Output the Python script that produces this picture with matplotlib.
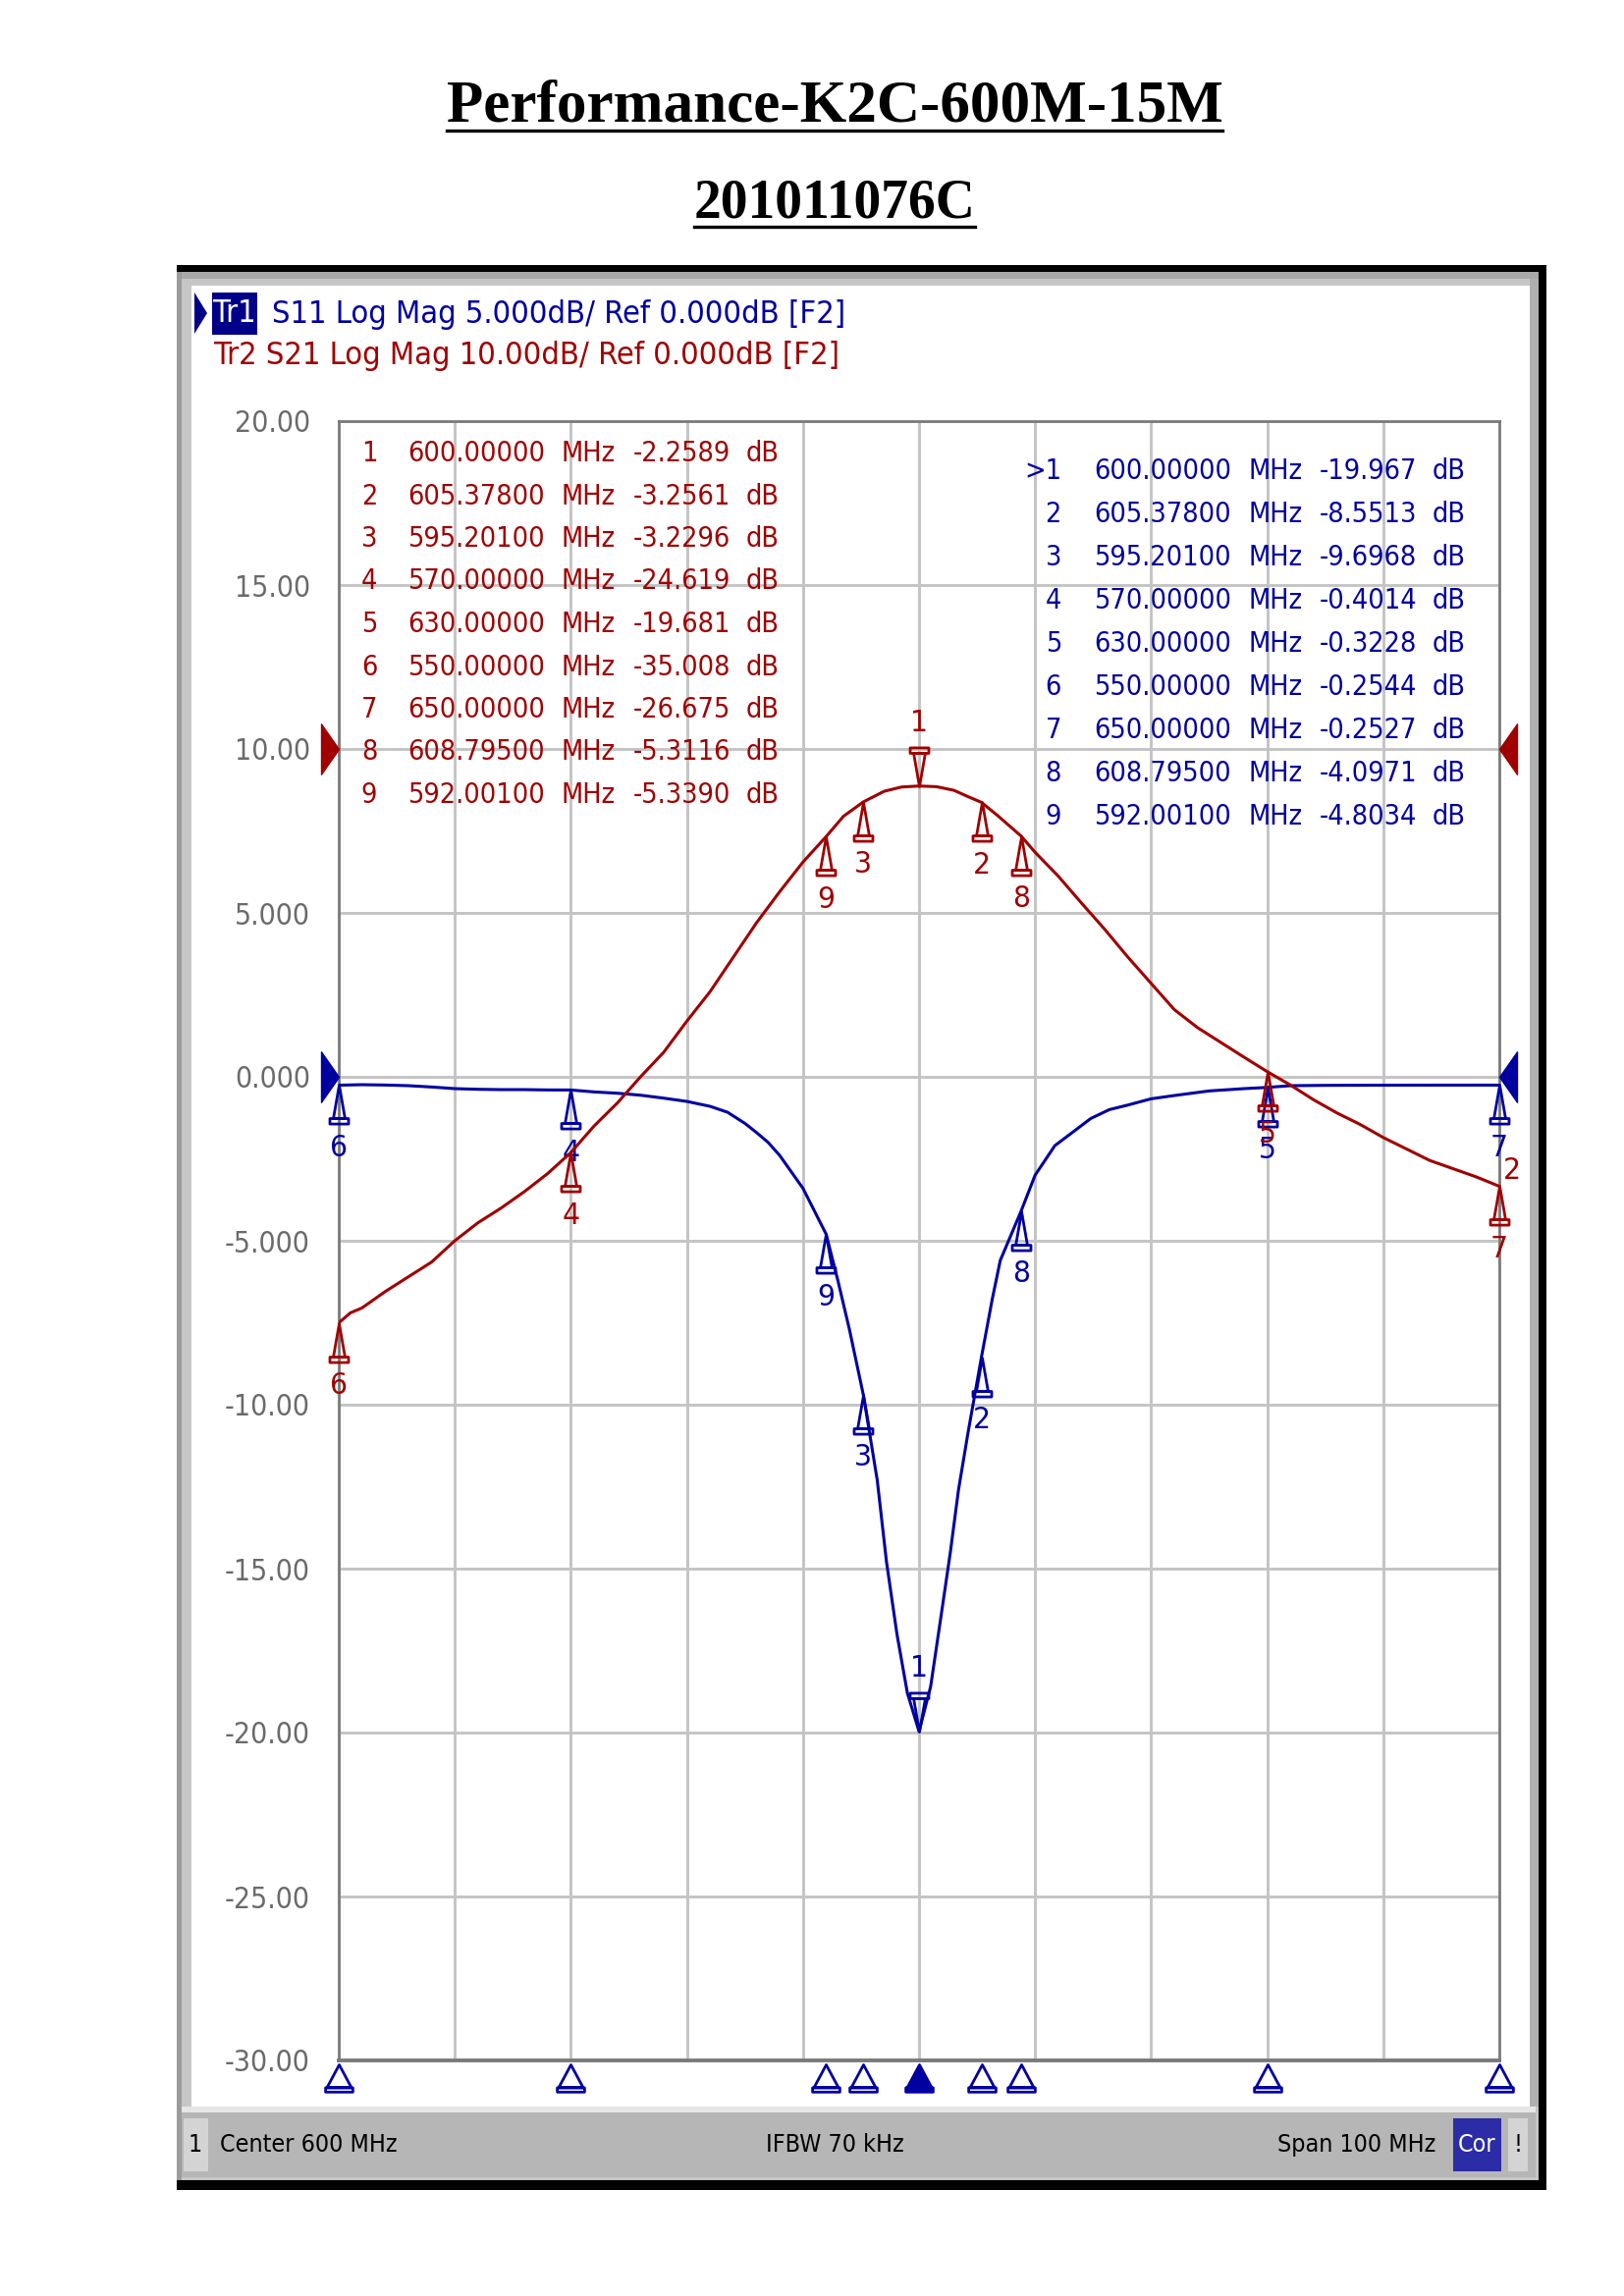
import matplotlib
matplotlib.use("Agg")
import matplotlib.pyplot as plt
import matplotlib.transforms as mtransforms
from matplotlib.path import Path
from matplotlib.patches import Rectangle, Polygon
from matplotlib.lines import Line2D
from matplotlib import font_manager

# ---------------- data ----------------
title_text = "Performance-K2C-600M-15M"
subtitle_text = "201011076C"

tr1_tag = "Tr1"
tr1_text = "S11 Log Mag 5.000dB/ Ref 0.000dB [F2]"
tr2_text = "Tr2 S21 Log Mag 10.00dB/ Ref 0.000dB [F2]"
status_left = "Center 600 MHz"
status_mid = "IFBW 70 kHz"
status_right = "Span 100 MHz"
status_cor = "Cor"

center_mhz = 600
span_mhz = 100
s11_per_div = 5.0
s11_ref_div = 6          # reference line position (divisions from bottom)
s21_per_div = 10.0
s21_ref_div = 8
n_div = 10

y_tick_labels = ["20.00", "15.00", "10.00", "5.000", "0.000", "-5.000",
                 "-10.00", "-15.00", "-20.00", "-25.00", "-30.00"]

s11_freq = [550, 552, 554, 556, 558, 560, 562, 564, 566, 568,
            570, 572, 574, 576, 578, 580, 582, 583.5, 585, 586,
            587, 588, 589, 590, 591, 592.001, 593, 594, 595.201, 596.4,
            597.2, 598.1, 599, 600, 601, 602, 602.7, 603.4, 604.2, 605.378,
            606.3, 607, 608.795, 610, 611.7, 613.2, 614.8, 616.4, 618, 620,
            622, 625, 628, 630, 632, 635, 640, 645, 650]
s11_db = [-0.2544, -0.24, -0.25, -0.27, -0.31, -0.36, -0.38, -0.39, -0.39, -0.40,
          -0.4014, -0.46, -0.50, -0.56, -0.65, -0.75, -0.90, -1.08, -1.42, -1.70,
          -2.0, -2.4, -2.9, -3.4, -4.1, -4.8034, -6.2, -7.7, -9.6968, -12.3,
          -14.8, -17.0, -18.8, -19.967, -18.6, -16.2, -14.5, -12.6, -10.9, -8.5513,
          -6.8, -5.6, -4.0971, -3.0, -2.1, -1.7, -1.27, -1.0, -0.86, -0.67,
          -0.57, -0.43, -0.36, -0.3228, -0.27, -0.26, -0.255, -0.253, -0.2527]

s21_freq = [550, 551, 552, 554, 556, 558, 560, 562, 564, 566,
            568, 570, 572, 574, 576, 578, 580, 582, 584, 586,
            588, 590, 592.001, 593.5, 595.201, 597, 598.5, 600, 601.5, 603,
            604.2, 605.378, 606.8, 608.795, 610, 612, 614, 616, 618, 620,
            622, 624, 626, 628, 630, 632, 634, 636, 638, 640,
            642, 644, 646, 648, 650]
s21_db = [-35.008, -34.4, -34.1, -33.1, -32.2, -31.3, -30.0, -28.9, -28.0, -27.0,
          -25.9, -24.619, -23.0, -21.6, -20.0, -18.5, -16.6, -14.8, -12.7, -10.6,
          -8.7, -6.9, -5.339, -4.1, -3.2296, -2.58, -2.32, -2.2589, -2.30, -2.52,
          -2.9, -3.2561, -4.08, -5.3116, -6.3, -7.76, -9.4, -11.0, -12.7, -14.3,
          -15.9, -17.0, -17.9, -18.8, -19.681, -20.5, -21.4, -22.2, -22.9, -23.7,
          -24.4, -25.1, -25.6, -26.1, -26.675]

marker_ids = [1, 2, 3, 4, 5, 6, 7, 8, 9]
marker_freq = [600.0, 605.378, 595.201, 570.0, 630.0, 550.0, 650.0, 608.795, 592.001]
s21_marker_db = [-2.2589, -3.2561, -3.2296, -24.619, -19.681, -35.008, -26.675, -5.3116, -5.3390]
s11_marker_db = [-19.967, -8.5513, -9.6968, -0.4014, -0.3228, -0.2544, -0.2527, -4.0971, -4.8034]
active_marker = 1

# ---------------- style ----------------
W, H = 1654, 2339
BLUE = "#0000a0"
RED = "#a00000"
NAVY = "#000088"
GRID = "#c4c4c4"
FRAME = "#7a7a7a"

names = {f.name for f in font_manager.fontManager.ttflist}
if "Liberation Sans Narrow" in names:
    VNA = dict(family="Liberation Sans Narrow")
else:
    VNA = dict(family="DejaVu Sans", stretch="condensed")
SERIF = "Liberation Serif" if "Liberation Serif" in names else "DejaVu Serif"

fig = plt.figure(figsize=(W / 100, H / 100), dpi=100, facecolor="white")
renderer = fig.canvas.get_renderer()


def fx(x):
    return x / W


def fy(y):
    return 1 - y / H


def fit_size(s, target_px):
    t = fig.text(0, 0, s, fontsize=20, **VNA)
    w = t.get_window_extent(renderer).width
    t.remove()
    return 20.0 * target_px / w


TABLE_FS = fit_size("600.00000", 139)
HEADER_FS = fit_size(tr2_text, 636)
TICK_FS = fit_size("20.00", 77)
STATUS_FS = fit_size(status_left, 180)
LABEL_FS = TABLE_FS * 1.1


def rect(x0, y0, x1, y1, color, z=-5):
    fig.add_artist(Rectangle((fx(x0), fy(y1)), (x1 - x0) / W, (y1 - y0) / H,
                             transform=fig.transFigure, facecolor=color,
                             edgecolor="none", zorder=z))


def ftext(x, y, s, **kw):
    kw.setdefault("va", "center")
    props = dict(VNA)
    props.update(kw)
    return fig.text(fx(x), fy(y), s, **props)


# ---------------- screenshot frame ----------------
rect(180, 270, 1575, 2231, "#c6c6c6", z=-6)
rect(180, 270, 1575, 277, "black")
rect(1567, 270, 1575, 2231, "black")
rect(180, 2221, 1575, 2231, "black")
rect(180, 277, 185, 2221, "#9c9c9c")
rect(185, 277, 1567, 284, "#a9a9a9")
rect(1558, 284, 1567, 2146, "#b0b0b0")
rect(195, 291, 1558, 2146, "white")
# status bar
rect(185, 2146, 1564, 2152, "#e6e6e6")
rect(185, 2152, 1564, 2218, "#b6b6b6")
rect(187, 2158, 212, 2212, "#d4d4d4", z=-4)
rect(1480, 2158, 1529, 2212, "#2c2ca6", z=-4)
rect(1536, 2158, 1556, 2212, "#d4d4d4", z=-4)
ftext(199, 2185, "1", ha="center", fontsize=STATUS_FS, color="black")
ftext(224, 2185, status_left, ha="left", fontsize=STATUS_FS, color="black")
ftext(850, 2185, status_mid, ha="center", fontsize=STATUS_FS, color="black")
ftext(1462, 2185, status_right, ha="right", fontsize=STATUS_FS, color="black")
ftext(1504, 2185, status_cor, ha="center", fontsize=STATUS_FS, color="white")
ftext(1546, 2185, "!", ha="center", fontsize=STATUS_FS, color="black")

# ---------------- header ----------------
fig.add_artist(Polygon([(fx(198), fy(298)), (fx(211), fy(319)), (fx(198), fy(340))],
                       closed=True, transform=fig.transFigure, facecolor=NAVY,
                       edgecolor="none", zorder=4))
rect(216, 298, 262, 341, NAVY, z=4)
ftext(239, 320, tr1_tag, ha="center", fontsize=HEADER_FS, color="white", zorder=5)
ftext(277, 320, tr1_text, ha="left", fontsize=HEADER_FS, color=BLUE)
ftext(218, 362, tr2_text, ha="left", fontsize=HEADER_FS, color=RED)

# ---------------- title ----------------
t1 = fig.text(fx(850), fy(124), title_text, ha="center", va="baseline",
              family=SERIF, fontweight="bold", fontsize=44)
t2 = fig.text(fx(850), fy(222), subtitle_text, ha="center", va="baseline",
              family=SERIF, fontweight="bold", fontsize=40)
for t, yline in ((t1, 133), (t2, 231)):
    bb = t.get_window_extent(renderer)
    fig.add_artist(Line2D([bb.x0 / W, bb.x1 / W], [fy(yline), fy(yline)],
                          transform=fig.transFigure, color="black", lw=2.4))

# ---------------- axes ----------------
ax = fig.add_axes([fx(345), fy(2099), (1527 - 345) / W, (2099 - 429) / H])
ax.set_zorder(1)
x0 = center_mhz - span_mhz / 2
x1 = center_mhz + span_mhz / 2
ax.set_xlim(x0, x1)
s11_lo = -s11_ref_div * s11_per_div
s11_hi = (n_div - s11_ref_div) * s11_per_div
ax.set_ylim(s11_lo, s11_hi)
ax.set_xticks([x0 + i * span_mhz / n_div for i in range(n_div + 1)])
yt = [s11_hi - i * s11_per_div for i in range(n_div + 1)]
ax.set_yticks(yt)
ax.set_yticklabels(y_tick_labels)
for lab in ax.get_yticklabels():
    lab.set_fontproperties(font_manager.FontProperties(size=TICK_FS, **VNA))
ax.tick_params(axis="x", length=0, labelbottom=False)
ax.tick_params(axis="y", length=0, pad=21, labelcolor="#6a6a6a")
ax.grid(True, color=GRID, lw=2.1)
ax.set_axisbelow(True)
for name, sp in ax.spines.items():
    sp.set_color(FRAME)
    sp.set_linewidth(2.0 if name != "bottom" else 2.8)

ax2 = ax.twinx()
ax2.set_zorder(2)
ax2.set_ylim(-s21_ref_div * s21_per_div, (n_div - s21_ref_div) * s21_per_div)
ax2.set_yticks([])
for sp in ax2.spines.values():
    sp.set_visible(False)

ax.plot(s11_freq, s11_db, color=BLUE, lw=2.2, zorder=3)
ax2.plot(s21_freq, s21_db, color=RED, lw=2.2, zorder=3)

# marker shapes
up_path = Path([(0, 0), (-0.15, -0.86), (0.15, -0.86), (0, 0),
                (-0.24, -0.86), (0.24, -0.86), (0.24, -1.0), (-0.24, -1.0), (-0.24, -0.86)],
               [Path.MOVETO, Path.LINETO, Path.LINETO, Path.CLOSEPOLY,
                Path.MOVETO, Path.LINETO, Path.LINETO, Path.LINETO, Path.CLOSEPOLY])
down_path = Path([(x, -y) for x, y in up_path.vertices], up_path.codes)
stim_path = Path([(0, 0), (-0.45, -0.84), (0.45, -0.84), (0, 0),
                  (-0.5, -0.84), (0.5, -0.84), (0.5, -1.0), (-0.5, -1.0), (-0.5, -0.84)],
                 up_path.codes)
ref_right = Path([(0, 0), (-0.7, 1), (-0.7, -1), (0, 0)],
                 [Path.MOVETO, Path.LINETO, Path.LINETO, Path.CLOSEPOLY])
ref_left = Path([(0, 0), (0.7, 1), (0.7, -1), (0, 0)], ref_right.codes)

PX = 72 / 100.0  # points per pixel


def trace_markers(axis, vals, color):
    for mid, f, v in zip(marker_ids, marker_freq, vals):
        active = (mid == active_marker)
        axis.plot([f], [v], marker=down_path if active else up_path, ms=57,
                  mfc="none", mec=color, mew=2.0, ls="none", clip_on=False, zorder=4)
        axis.annotate(str(mid), (f, v), xytext=(0, (64 if active else -64) * PX),
                      textcoords="offset points", ha="center", va="center",
                      color=color, fontsize=LABEL_FS, annotation_clip=False, zorder=5, **VNA)


trace_markers(ax, s11_marker_db, BLUE)
trace_markers(ax2, s21_marker_db, RED)

# stimulus markers under the grid
trans_b = mtransforms.blended_transform_factory(ax.transData, ax.transAxes)
for mid, f in zip(marker_ids, marker_freq):
    active = (mid == active_marker)
    ax.plot([f], [-4 / 1670], transform=trans_b, marker=stim_path, ms=40,
            mfc=BLUE if active else "white", mec=BLUE, mew=2.0, ls="none",
            clip_on=False, zorder=5)

# reference level arrows
ax.plot([x0], [0], marker=ref_right, ms=37, color=BLUE, ls="none", clip_on=False, zorder=5)
ax.plot([x1], [0], marker=ref_left, ms=37, color=BLUE, ls="none", clip_on=False, zorder=5)
ax2.plot([x0], [0], marker=ref_right, ms=37, color=RED, ls="none", clip_on=False, zorder=5)
ax2.plot([x1], [0], marker=ref_left, ms=37, color=RED, ls="none", clip_on=False, zorder=5)

# trace end label
ax2.annotate("2", (s21_freq[-1], s21_db[-1]), xytext=(13 * PX, 16 * PX),
             textcoords="offset points", ha="center", va="center", color=RED,
             fontsize=LABEL_FS, annotation_clip=False, zorder=5, **VNA)


# ---------------- marker tables ----------------
def fmt_db(v):
    return f"{v:.4f}" if abs(v) < 10 else f"{v:.3f}"


for i, (mid, f, v) in enumerate(zip(marker_ids, marker_freq, s21_marker_db)):
    y = 462 + i * 43.5
    ftext(376, y, str(mid), ha="center", fontsize=TABLE_FS, color=RED)
    ftext(555, y, f"{f:.5f}", ha="right", fontsize=TABLE_FS, color=RED)
    ftext(572, y, "MHz", ha="left", fontsize=TABLE_FS, color=RED)
    ftext(744, y, fmt_db(v), ha="right", fontsize=TABLE_FS, color=RED)
    ftext(760, y, "dB", ha="left", fontsize=TABLE_FS, color=RED)

for i, (mid, f, v) in enumerate(zip(marker_ids, marker_freq, s11_marker_db)):
    y = 480 + i * 44
    lab = (">" if mid == active_marker else "") + str(mid)
    ftext(1081, y, lab, ha="right", fontsize=TABLE_FS, color=BLUE)
    ftext(1254, y, f"{f:.5f}", ha="right", fontsize=TABLE_FS, color=BLUE)
    ftext(1272, y, "MHz", ha="left", fontsize=TABLE_FS, color=BLUE)
    ftext(1443, y, fmt_db(v), ha="right", fontsize=TABLE_FS, color=BLUE)
    ftext(1459, y, "dB", ha="left", fontsize=TABLE_FS, color=BLUE)

fig.savefig("out.png", dpi=100, facecolor="white")
